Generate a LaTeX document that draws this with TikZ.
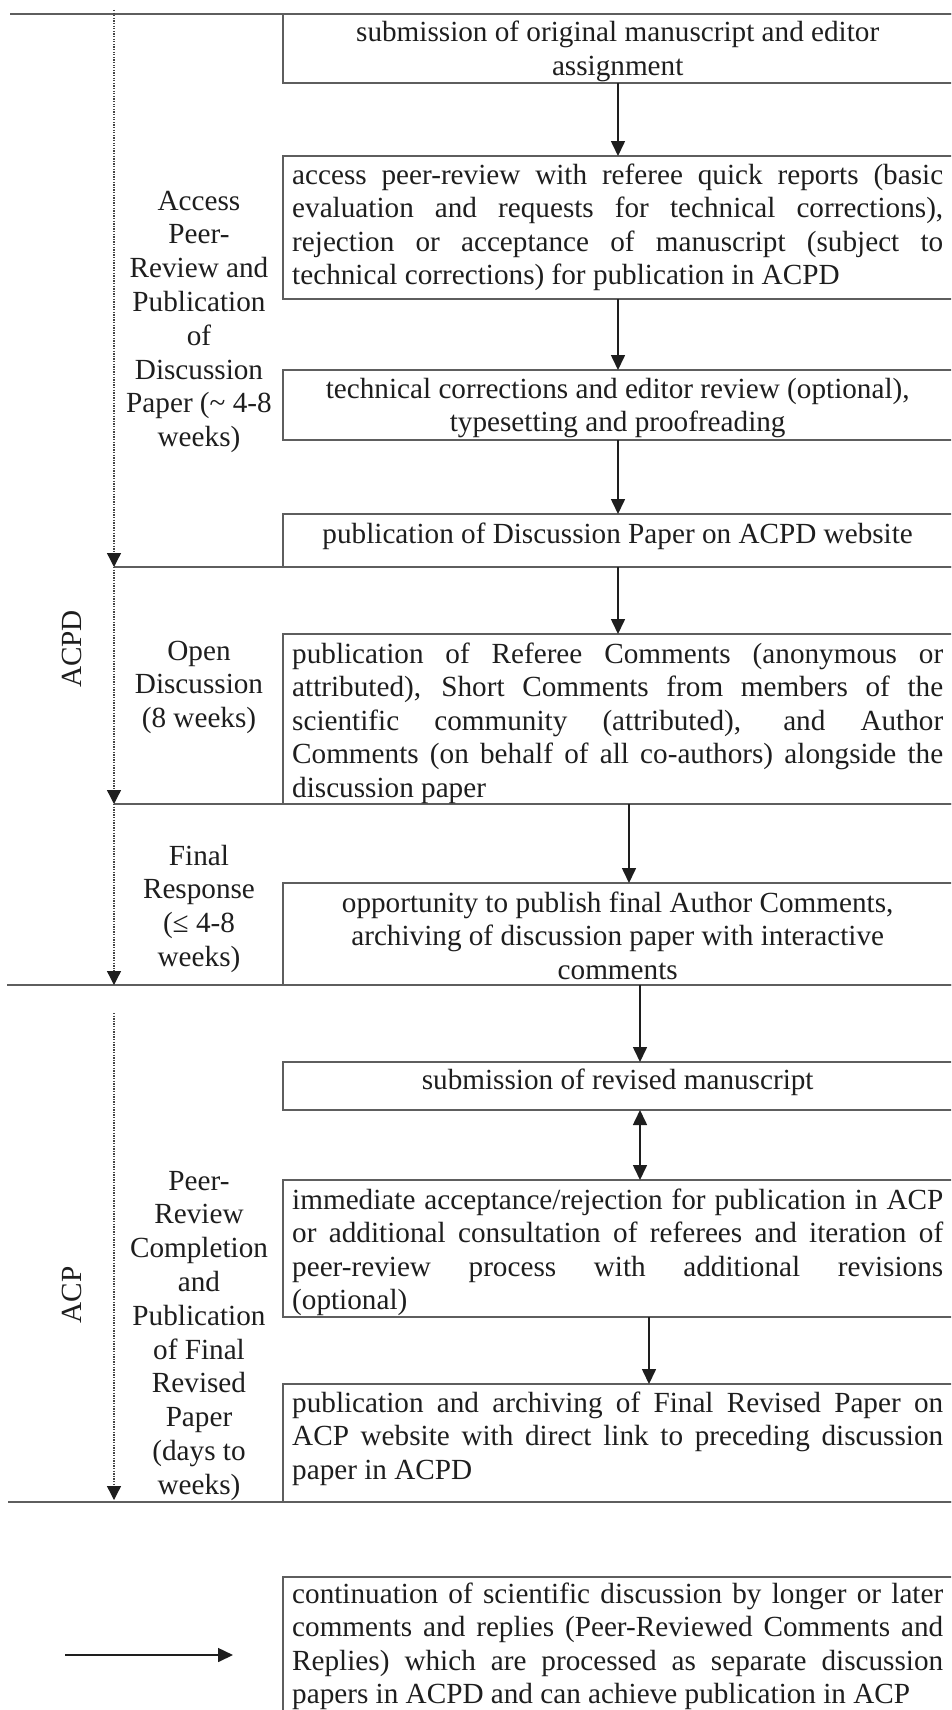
\documentclass[tikz,border=0pt]{standalone}
\usepackage{fontspec}
\setmainfont{Liberation Serif}
\usetikzlibrary{arrows.meta}
\newdimen\bxw \bxw=651pt
\newdimen\lbw \lbw=170pt
\newcommand\bxj[1]{\hbox to \bxw{#1}}
\newcommand\bxc[1]{\hbox to \bxw{\hfil#1\hfil}}
\newcommand\bxl[1]{\hbox to \bxw{#1\hfil}}
\newcommand\lbc[1]{\hbox to \lbw{\hfil#1\hfil}}
\newcommand\blk[1]{\vtop{\baselineskip=33.6pt\lineskiplimit=-1000pt\lineskip=0pt#1}}
\newcommand\lblk[1]{\vtop{\baselineskip=33.8pt\lineskiplimit=-1000pt\lineskip=0pt#1}}
\definecolor{linegray}{HTML}{5E5E5E}
\definecolor{dotgray}{HTML}{454545}
\definecolor{ink}{HTML}{1E1E1E}
\begin{document}
\begin{tikzpicture}[x=1pt,y=-1pt,
  font=\fontsize{29.2}{33.8}\selectfont, text=ink,
  bx/.style={draw=linegray, line width=1.6pt, inner sep=0pt, outer sep=0pt,
    anchor=north west, minimum width=677pt},
  tx/.style={anchor=base west, inner sep=0pt},
  lb/.style={anchor=base, inner sep=0pt},
  sepline/.style={draw=linegray, line width=1.6pt},
  arr/.style={draw=ink, line width=1.6pt, -{Triangle[length=15pt,width=14pt]}},
  darr/.style={draw=dotgray, line width=1.3pt, dash pattern=on 1.3pt off 1.3pt,
    -{Triangle[length=14pt,width=14pt,fill=ink,color=ink]}}]
\useasboundingbox (0,0) rectangle (951,1710);
\fill[white] (0,0) rectangle (951,1710);
\clip (0,0) rectangle (951,1710);

% boxes
\node[bx, minimum height=69pt]  (b1)  at (283,14)   {};
\node[bx, minimum height=143pt] (b2)  at (283,156)  {};
\node[bx, minimum height=70pt]  (b3)  at (283,370)  {};
\node[bx, minimum height=53pt]  (b4)  at (283,514)  {};
\node[bx, minimum height=170pt] (b5)  at (283,634)  {};
\node[bx, minimum height=102pt] (b6)  at (283,883)  {};
\node[bx, minimum height=48pt]  (b7)  at (283,1062) {};
\node[bx, minimum height=137pt] (b8)  at (283,1180) {};
\node[bx, minimum height=118pt] (b9)  at (283,1384) {};
\node[bx, minimum height=200pt] (b10) at (283,1577) {};

% separators
\coordinate (d0) at (114,10);
\coordinate (d1) at (114,567);
\coordinate (d2) at (114,804);
\coordinate (d3) at (114,985);
\coordinate (e0) at (114,1013);
\coordinate (e1) at (114,1500);
\draw[sepline] (10,14) -- (960,14);
\draw[sepline] (d1) -- (960,567);
\draw[sepline] (d2) -- (960,804);
\draw[sepline] (7,985) -- (960,985);
\draw[sepline] (8,1502) -- (960,1502);

% box texts
\node[tx] (t1) at (292,42) {\blk{\bxc{submission of original manuscript and editor}\bxc{assignment}}};
\node[tx] (t2) at (292,184) {\blk{%
\bxj{access peer-review with referee quick reports (basic}%
\bxj{evaluation and requests for technical corrections),}%
\bxj{rejection or acceptance of manuscript (subject to}%
\bxl{technical corrections) for publication in ACPD}}};
\node[tx] (t3) at (292,398) {\blk{\bxc{technical corrections and editor review (optional),}\bxc{typesetting and proofreading}}};
\node[tx] (t4) at (292,543) {\blk{\bxc{publication of Discussion Paper on ACPD website}}};
\node[tx] (t5) at (292,663) {\blk{%
\bxj{publication of Referee Comments (anonymous or}%
\bxj{attributed), Short Comments from members of the}%
\bxj{scientific community (attributed), and Author}%
\bxj{Comments (on behalf of all co-authors) alongside the}%
\bxl{discussion paper}}};
\node[tx] (t6) at (292,912) {\blk{\bxc{opportunity to publish final Author Comments,}\bxc{archiving of discussion paper with interactive}\bxc{comments}}};
\node[tx] (t7) at (292,1089) {\blk{\bxc{submission of revised manuscript}}};
\node[tx] (t8) at (292,1209) {\blk{%
\bxj{immediate acceptance/rejection for publication in ACP}%
\bxj{or additional consultation of referees and iteration of}%
\bxj{peer-review process with additional revisions}%
\bxl{(optional)}}};
\node[tx] (t9) at (292,1412) {\blk{%
\bxj{publication and archiving of Final Revised Paper on}%
\bxj{ACP website with direct link to preceding discussion}%
\bxl{paper in ACPD}}};
\node[tx] (t10) at (292,1603) {\blk{%
\bxj{continuation of scientific discussion by longer or later}%
\bxj{comments and replies (Peer-Reviewed Comments and}%
\bxj{Replies) which are processed as separate discussion}%
\bxl{papers in ACPD and can achieve publication in ACP}}};

% phase labels
\node[lb] (l1) at (199,210) {\lblk{\lbc{Access}\lbc{Peer-}\lbc{Review and}\lbc{Publication}\lbc{of}\lbc{Discussion}\lbc{Paper (\textasciitilde{} 4-8}\lbc{weeks)}}};
\node[lb] (l2) at (199,660) {\lblk{\lbc{Open}\lbc{Discussion}\lbc{(8 weeks)}}};
\node[lb] (l3) at (199,865) {\lblk{\lbc{Final}\lbc{Response}\lbc{(≤ 4-8}\lbc{weeks)}}};
\node[lb] (l4) at (199,1190) {\lblk{\lbc{Peer-}\lbc{Review}\lbc{Completion}\lbc{and}\lbc{Publication}\lbc{of Final}\lbc{Revised}\lbc{Paper}\lbc{(days to}\lbc{weeks)}}};

\node[rotate=90, inner sep=0pt] (acpd) at (72,649) {ACPD};
\node[rotate=90, inner sep=0pt] (acp) at (72,1295) {ACP};

% dotted timeline arrows
\draw[darr] (d0) -- (d1);
\draw[darr] (d1) -- (d2);
\draw[darr] (d2) -- (d3);
\draw[darr] (e0) -- (e1);

% flow arrows
\draw[arr] ([xshift=-3.5pt]b1.south) -- ([xshift=-3.5pt]b2.north);
\draw[arr] ([xshift=-3.5pt]b2.south) -- ([xshift=-3.5pt]b3.north);
\draw[arr] ([xshift=-3.5pt]b3.south) -- ([xshift=-3.5pt]b4.north);
\draw[arr] ([xshift=-3.5pt]b4.south) -- ([xshift=-3.5pt]b5.north);
\draw[arr] ([xshift=7.5pt]b5.south) -- ([xshift=7.5pt]b6.north);
\draw[arr] ([xshift=18.5pt]b6.south) -- ([xshift=18.5pt]b7.north);
\draw[arr, {Triangle[length=15pt,width=14pt]}-{Triangle[length=15pt,width=14pt]}] ([xshift=18.5pt]b7.south) -- ([xshift=18.5pt]b8.north);
\draw[arr] ([xshift=27.5pt]b8.south) -- ([xshift=27.5pt]b9.north);

\coordinate (f0) at (65,1655);
\coordinate (f1) at (233,1655);
\draw[arr] (f0) -- (f1);
\end{tikzpicture}
\end{document}
